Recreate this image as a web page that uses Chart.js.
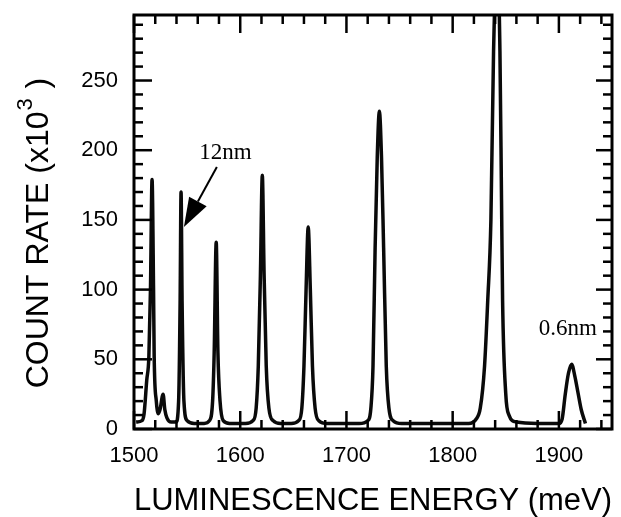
<!DOCTYPE html>
<html><head><meta charset="utf-8">
<script src="https://cdn.jsdelivr.net/npm/chart.js@4.4.1/dist/chart.umd.min.js"></script>
<style>html,body{margin:0;padding:0;background:#fff}#wrap{width:621px;height:517px}</style>
</head><body><div id="wrap"><canvas id="c" width="621" height="517"></canvas></div>
<script>
// Luminescence energy (meV) and count rate (x10^3)
const energy = [
  1502, 1507.5, 1509.5, 1512, 1514, 1515.5, 1517, 1518.4, 1519, 1521, 1523, 1524.5, 1527.4, 1529, 1531, 1535, 1539.6,
  1542, 1543.4, 1544.3, 1545.3, 1547, 1550, 1556.6,
  1566, 1571, 1574, 1575.5, 1577.4, 1579, 1581, 1584, 1590,
  1605, 1612, 1615, 1617, 1619, 1620.8, 1622.5, 1624.5, 1627, 1631, 1638,
  1648, 1655, 1658, 1660, 1662, 1664, 1666, 1668, 1670.5, 1674, 1682,
  1712, 1720, 1723, 1725, 1727, 1729, 1731, 1733, 1735, 1737.5, 1740, 1744, 1752,
  1815, 1822, 1826, 1830, 1833, 1836, 1838.5, 1842, 1844.5, 1846, 1847, 1850, 1853, 1860,
  1880, 1900, 1903, 1906, 1909, 1912, 1915, 1918, 1921, 1925
];
const countRate = [
  5, 6, 11, 35, 52, 100, 179, 100, 52, 20, 11, 14, 25, 14, 8, 5, 5,
  20, 90, 170, 90, 20, 6, 4,
  4, 6, 20, 55, 134, 55, 20, 6, 4,
  4, 6, 15, 45, 110, 182, 110, 45, 15, 6, 4,
  4, 6, 15, 45, 100, 145, 100, 45, 15, 6, 4,
  4, 6, 15, 45, 130, 195, 228, 195, 130, 45, 15, 6, 4,
  4, 7, 15, 45, 92, 150, 271, 340, 271, 164, 92, 25, 10, 5,
  4, 4, 7, 25, 40, 46.5, 38, 26, 14, 4
];
const xMajorTicks = [1500, 1600, 1700, 1800, 1900];
const xMinorTicks = [1520, 1540, 1560, 1580, 1620, 1640, 1660, 1680, 1720, 1740, 1760, 1780, 1820, 1840, 1860, 1880, 1920, 1940];
const yMajorTicks = [0, 50, 100, 150, 200, 250];
const yMinorTicks = [10, 20, 30, 40, 60, 70, 80, 90, 110, 120, 130, 140, 160, 170, 180, 190, 210, 220, 230, 240, 260, 270, 280, 290];
const noteLabels = ['12nm', '0.6nm'];
const noteX = [1586, 1908.5];
const noteY = [198, 72];
const arrowFrom = [1578, 188];
const arrowTo = [1547, 145];

const figurePlugin = {
  id: 'figure',
  afterDatasetsDraw(chart) {
    const ctx = chart.ctx, a = chart.chartArea;
    const xs = chart.scales.x, ys = chart.scales.y;
    ctx.save();
    ctx.strokeStyle = '#000';
    ctx.lineCap = 'butt';
    ctx.lineWidth = 2.5;
    const tickX = (v, len) => {
      const p = xs.getPixelForValue(v);
      ctx.beginPath(); ctx.moveTo(p, a.top); ctx.lineTo(p, a.top + len); ctx.stroke();
      ctx.beginPath(); ctx.moveTo(p, a.bottom); ctx.lineTo(p, a.bottom - len); ctx.stroke();
    };
    const tickY = (v, len, lenR) => {
      const p = ys.getPixelForValue(v);
      ctx.beginPath(); ctx.moveTo(a.left, p); ctx.lineTo(a.left + len, p); ctx.stroke();
      ctx.beginPath(); ctx.moveTo(a.right, p); ctx.lineTo(a.right - lenR, p); ctx.stroke();
    };
    xMinorTicks.forEach(v => tickX(v, 9));
    xMajorTicks.forEach(v => tickX(v, 18));
    yMinorTicks.forEach(v => tickY(v, 9, 9));
    yMajorTicks.forEach(v => tickY(v, 18, 16));
    ctx.lineWidth = 3;
    ctx.strokeRect(a.left, a.top, a.right - a.left, a.bottom - a.top);
    ctx.fillStyle = '#000';
    ctx.font = '23px "Liberation Serif"';
    ctx.textAlign = 'center';
    ctx.textBaseline = 'middle';
    noteLabels.forEach((t, i) => ctx.fillText(t, xs.getPixelForValue(noteX[i]), ys.getPixelForValue(noteY[i])));
    const x0 = xs.getPixelForValue(arrowFrom[0]), y0 = ys.getPixelForValue(arrowFrom[1]);
    const x1 = xs.getPixelForValue(arrowTo[0]), y1 = ys.getPixelForValue(arrowTo[1]);
    const dx = x1 - x0, dy = y1 - y0, L = Math.hypot(dx, dy), ux = dx / L, uy = dy / L;
    const hl = 29, hw = 10;
    const bx = x1 - ux * hl, by = y1 - uy * hl;
    ctx.lineWidth = 2;
    ctx.beginPath(); ctx.moveTo(x0, y0); ctx.lineTo(bx, by); ctx.stroke();
    ctx.beginPath(); ctx.moveTo(x1, y1);
    ctx.lineTo(bx - uy * hw, by + ux * hw);
    ctx.lineTo(bx + uy * hw, by - ux * hw);
    ctx.closePath(); ctx.fill();
    // y title with superscript
    ctx.translate(39, 233);
    ctx.rotate(-Math.PI / 2);
    ctx.textAlign = 'left';
    const big = '32px "Liberation Sans"', small = '22px "Liberation Sans"';
    const t1 = 'COUNT RATE (x10', t2 = '3', t3 = ' )';
    ctx.font = big; const w1 = ctx.measureText(t1).width, w3 = ctx.measureText(t3).width;
    ctx.font = small; const w2 = ctx.measureText(t2).width + 2;
    const sx = -(w1 + w2 + w3) / 2;
    ctx.font = big; ctx.fillText(t1, sx, 0);
    ctx.font = small; ctx.fillText(t2, sx + w1 + 1, -13);
    ctx.font = big; ctx.fillText(t3, sx + w1 + w2, 0);
    ctx.restore();
  }
};

new Chart(document.getElementById('c'), {
  type: 'line',
  data: {
    datasets: [{
      data: energy.map((e, i) => ({ x: e, y: countRate[i] })),
      borderColor: '#0a0a0a',
      borderWidth: 3.5,
      pointRadius: 0,
      fill: false,
      cubicInterpolationMode: 'monotone',
      clip: 0
    }]
  },
  options: {
    responsive: false,
    animation: false,
    devicePixelRatio: 1,
    layout: { padding: { left: 0, top: 15, right: 9, bottom: 0 } },
    plugins: { legend: { display: false }, tooltip: { enabled: false } },
    scales: {
      x: {
        type: 'linear', min: 1500, max: 1950,
        grid: { display: false, drawTicks: false },
        border: { display: false },
        ticks: { stepSize: 100, includeBounds: false, padding: 14, color: '#000',
                 font: { family: '"Liberation Sans"', size: 22 }, callback: v => String(v) },
        title: { display: true, text: 'LUMINESCENCE ENERGY (meV)', color: '#000',
                 font: { family: '"Liberation Sans"', size: 31, lineHeight: 1 }, padding: { top: 0, bottom: 0 } },
        afterFit: s => { s.height = 88; s.paddingLeft = 0; s.paddingRight = 0; }
      },
      y: {
        type: 'linear', min: 0, max: 297,
        grid: { display: false, drawTicks: false },
        border: { display: false },
        ticks: { stepSize: 50, includeBounds: false, padding: 16, color: '#000',
                 font: { family: '"Liberation Sans"', size: 22 }, callback: v => String(v) },
        afterFit: s => { s.width = 134; s.paddingTop = 0; s.paddingBottom = 0; }
      }
    }
  },
  plugins: [figurePlugin]
});
</script>
</body></html>
